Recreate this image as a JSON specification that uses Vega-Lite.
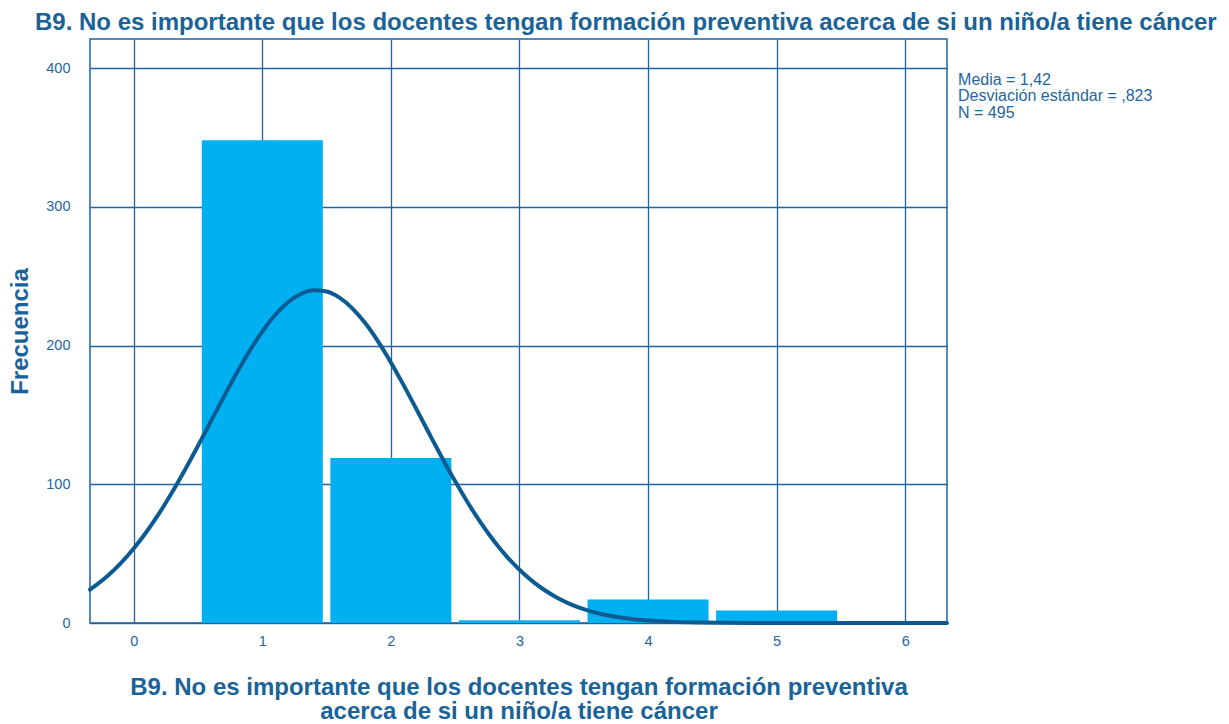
{
  "$schema": "https://vega.github.io/schema/vega-lite/v6.json",
  "width": 857,
  "height": 584,
  "autosize": {"type": "none"},
  "padding": {"left": 90, "top": 39, "right": 282, "bottom": 101},
  "background": "white",
  "title": {
    "text": "B9. No es importante que los docentes tengan formación preventiva acerca de si un niño/a tiene cáncer",
    "anchor": "start",
    "frame": "group",
    "dx": -55,
    "offset": 4,
    "font": "Liberation Sans",
    "fontSize": 24,
    "fontWeight": "bold",
    "color": "#1a6398"
  },
  "config": {
    "view": {"stroke": "#1f63a0", "strokeWidth": 1.5},
    "axis": {
      "grid": true,
      "gridColor": "#1f63a0",
      "gridWidth": 1.3,
      "gridOpacity": 1,
      "ticks": false,
      "domain": false,
      "labelFont": "Liberation Sans",
      "labelFontSize": 14.5,
      "labelColor": "#1f66a0",
      "titleFont": "Liberation Sans",
      "titleFontSize": 24,
      "titleFontWeight": "bold",
      "titleColor": "#1a6398"
    }
  },
  "datasets": {
    "freq": [
      {"x": 1, "y": 348},
      {"x": 2, "y": 119},
      {"x": 3, "y": 2},
      {"x": 4, "y": 17},
      {"x": 5, "y": 9}
    ],
    "curva": [
      {"x": -0.34, "y": 24.12},
      {"x": -0.3, "y": 26.73},
      {"x": -0.2, "y": 34.23},
      {"x": -0.1, "y": 43.19},
      {"x": 0.0, "y": 53.69},
      {"x": 0.1, "y": 65.76},
      {"x": 0.2, "y": 79.37},
      {"x": 0.3, "y": 94.39},
      {"x": 0.4, "y": 110.61},
      {"x": 0.5, "y": 127.73},
      {"x": 0.6, "y": 145.32},
      {"x": 0.7, "y": 162.92},
      {"x": 0.8, "y": 179.98},
      {"x": 0.9, "y": 195.9},
      {"x": 1.0, "y": 210.1},
      {"x": 1.1, "y": 222.04},
      {"x": 1.2, "y": 231.21},
      {"x": 1.3, "y": 237.23},
      {"x": 1.4, "y": 239.85},
      {"x": 1.5, "y": 238.94},
      {"x": 1.6, "y": 234.54},
      {"x": 1.7, "y": 226.85},
      {"x": 1.8, "y": 216.2},
      {"x": 1.9, "y": 203.02},
      {"x": 2.0, "y": 187.86},
      {"x": 2.1, "y": 171.28},
      {"x": 2.2, "y": 153.88},
      {"x": 2.3, "y": 136.21},
      {"x": 2.4, "y": 118.81},
      {"x": 2.5, "y": 102.11},
      {"x": 2.6, "y": 86.48},
      {"x": 2.7, "y": 72.16},
      {"x": 2.8, "y": 59.33},
      {"x": 2.9, "y": 48.07},
      {"x": 3.0, "y": 38.37},
      {"x": 3.1, "y": 30.18},
      {"x": 3.2, "y": 23.4},
      {"x": 3.3, "y": 17.86},
      {"x": 3.4, "y": 13.45},
      {"x": 3.5, "y": 9.97},
      {"x": 3.6, "y": 7.28},
      {"x": 3.7, "y": 5.24},
      {"x": 3.8, "y": 3.72},
      {"x": 3.9, "y": 2.6},
      {"x": 4.0, "y": 1.79},
      {"x": 4.2, "y": 0.81},
      {"x": 4.4, "y": 0.35},
      {"x": 4.6, "y": 0.14},
      {"x": 4.8, "y": 0.05},
      {"x": 5.0, "y": 0.02},
      {"x": 5.5, "y": 0.0},
      {"x": 6.0, "y": 0.0},
      {"x": 6.325, "y": 0.0}
    ],
    "resumen": [
      {"linea": "Media = 1,42", "orden": 0},
      {"linea": "Desviación estándar = ,823", "orden": 1},
      {"linea": "N = 495", "orden": 2}
    ]
  },
  "layer": [
    {
      "data": {"name": "freq"},
      "mark": {"type": "bar", "size": 121, "color": "#00b0f0"},
      "encoding": {
        "x": {
          "field": "x",
          "type": "quantitative",
          "scale": {"domain": [-0.34, 6.325], "nice": false, "zero": false, "padding": 0},
          "axis": {
            "values": [0, 1, 2, 3, 4, 5, 6],
            "format": "d",
            "labelPadding": 11,
            "titlePadding": 28,
            "titleLineHeight": 24,
            "title": ["B9. No es importante que los docentes tengan formación preventiva", "acerca de si un niño/a tiene cáncer"]
          }
        },
        "y": {
          "field": "y",
          "type": "quantitative",
          "scale": {"domain": [0, 421], "nice": false, "padding": 0},
          "axis": {
            "values": [0, 100, 200, 300, 400],
            "format": "d",
            "labelPadding": 20,
            "titlePadding": 13,
            "title": "Frecuencia"
          }
        }
      }
    },
    {
      "data": {"name": "curva"},
      "mark": {"type": "line", "color": "#0c5a92", "strokeWidth": 4, "interpolate": "monotone", "strokeCap": "round"},
      "encoding": {
        "x": {"field": "x", "type": "quantitative"},
        "y": {"field": "y", "type": "quantitative"}
      }
    },
    {
      "data": {"name": "resumen"},
      "mark": {"type": "text", "clip": false, "align": "left", "baseline": "top", "font": "Liberation Sans", "fontSize": 16, "color": "#1f66a0"},
      "encoding": {
        "x": {"datum": 6.411, "type": "quantitative"},
        "y": {"datum": 397.5, "type": "quantitative"},
        "yOffset": {"field": "orden", "type": "quantitative", "scale": {"domain": [0, 2], "range": [0, 33]}},
        "text": {"field": "linea", "type": "nominal"}
      }
    }
  ]
}
